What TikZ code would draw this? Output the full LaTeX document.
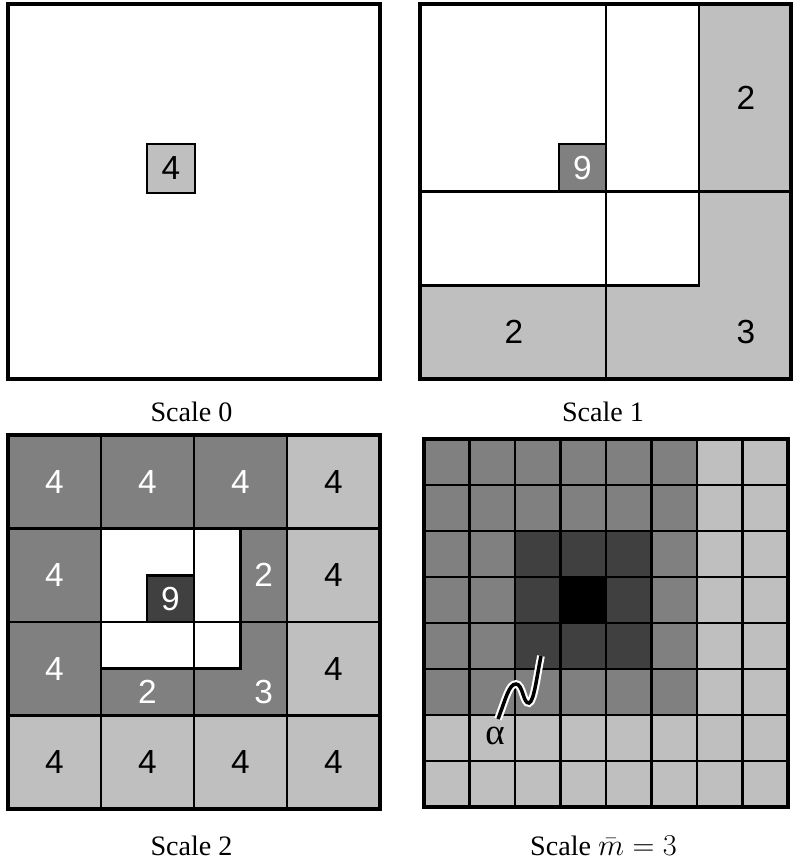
\documentclass[tikz,border=0pt]{standalone}
\usepackage[no-math]{fontspec}
\setmainfont{Liberation Serif}
\newfontfamily\digitfont{Liberation Sans}
\usepackage{xcolor}
\usepackage{tikz}
\usetikzlibrary{positioning,calc}

\definecolor{lightg}{gray}{0.75}
\definecolor{midg}{gray}{0.5}
\definecolor{darkg}{gray}{0.25}

\begin{document}
\begin{tikzpicture}[x=0.02cm, y=-0.02cm,
  grid/.style={line width=1.6pt},
  frame/.style={line width=1.9pt},
  num/.style={font=\digitfont\fontsize{19}{20}\selectfont, inner sep=0pt},
  wnum/.style={num, text=white},
  caption/.style={font=\fontsize{16}{19}\selectfont, anchor=base, inner sep=0pt}]
  \useasboundingbox (0,0) rectangle (799,862);

  % Scale 0
  \draw[frame] (8,4) rectangle (380,379);
  \draw[grid, fill=lightg] (147,144) rectangle (195,193);
  \node[num] (s0k) at (171,168.5) {4};
  \node[caption] (cap0) at (191.5,421) {Scale 0};

  % Scale 1
  \fill[lightg] (699,4) rectangle (791,191.5);
  \fill[lightg] (420,285.5) rectangle (606,379);
  \fill[lightg] (606,285.5) -- (699,285.5) -- (699,191.5) -- (791,191.5) -- (791,379) -- (606,379) -- cycle;
  \draw[grid, fill=midg] (559,144) rectangle (606,191.5);
  \draw[grid] (606,4) -- (606,379);
  \draw[grid] (420,191.5) -- (791,191.5);
  \draw[grid] (699,4) -- (699,285.5) -- (420,285.5);
  \draw[frame] (420,4) rectangle (791,379);
  \node[wnum] (s1k) at (582.5,168) {9};
  \node[num] (s1a) at (746,98) {2};
  \node[num] (s1b) at (514,332) {2};
  \node[num] (s1c) at (746,332) {3};
  \node[caption] (cap1) at (603,421) {Scale 1};

  % Scale 2
  \fill[lightg] (8,435) rectangle (380,809);
  \fill[midg] (8,435) rectangle (287,715.5);
  \fill[white] (101,528.5) rectangle (240.5,668.5);
  \draw[grid, fill=darkg] (147,575.5) rectangle (194,622);
  \foreach \x in {101,194,287}
    \draw[grid] (\x,435) -- (\x,809);
  \foreach \y in {528.5,622,715.5}
    \draw[grid] (8,\y) -- (380,\y);
  \draw[grid] (240.5,528.5) -- (240.5,668.5) -- (101,668.5);
  \draw[frame] (8,435) rectangle (380,809);
  \foreach \x/\y/\c [count=\n] in {54.5/481.75/white, 147.5/481.75/white, 240.5/481.75/white,
      333.5/481.75/black, 54.5/575.25/white, 333.5/575.25/black, 54.5/668.75/white,
      333.5/668.75/black, 54.5/762.25/black, 147.5/762.25/black, 240.5/762.25/black,
      333.5/762.25/black}
    \node[num, text=\c] (s2n\n) at (\x,\y) {4};
  \node[wnum] (s2k) at (170.5,599) {9};
  \node[wnum] (s2a) at (263.75,575) {2};
  \node[wnum] (s2b) at (147.5,692) {2};
  \node[wnum] (s2c) at (263.75,692) {3};
  \node[caption] (cap2) at (191.5,855) {Scale 2};

  % Scale 3
  \fill[lightg] (424,439) rectangle (788,807);
  \fill[midg] (424,439) rectangle (697,715);
  \fill[darkg] (515,531) rectangle (651.5,669);
  \fill[black] (560.5,577) rectangle (606,623);
  \foreach \i in {1,...,7}{
    \draw[grid] ({424+\i*45.5},439) -- ({424+\i*45.5},807);
    \draw[grid] (424,{439+\i*46}) -- (788,{439+\i*46});
  }
  \draw[frame] (424,439) rectangle (788,807);
  \node[font=\fontsize{21}{22}\selectfont, inner sep=0pt] (alpha) at (495,736) {α};
  \coordinate (tail) at (498,719);
  \coordinate (head) at (541,656);
  \draw[draw=white, line width=1.2pt, double=black, double distance=2pt]
    (tail) .. controls (506,698) and (509,684) .. (516,684)
    .. controls (523,684) and (523,704) .. (529,703)
    .. controls (534,702) and (537,675) .. (head);
  \node[caption] (cap3) at (603.5,855) {Scale $\bar{m}=3$};
\end{tikzpicture}
\end{document}
